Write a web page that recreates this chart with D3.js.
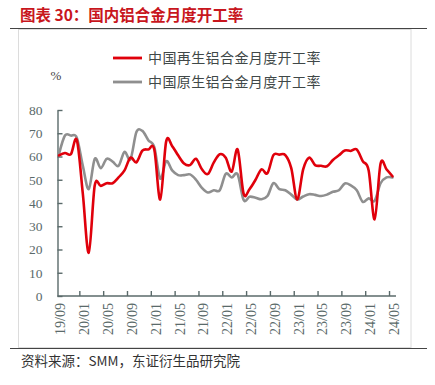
<!DOCTYPE html>
<html>
<head>
<meta charset="utf-8">
<script src="https://cdn.jsdelivr.net/npm/d3@7"></script>
<style>
  body { margin: 0; background: #fff; }
  svg { display: block; }
</style>
</head>
<body>
<svg id="chart" width="435" height="385"></svg>
<script>
const months = [
  '19/09', '19/10', '19/11', '19/12',
  '20/01', '20/02', '20/03', '20/04', '20/05', '20/06', '20/07', '20/08', '20/09', '20/10', '20/11', '20/12',
  '21/01', '21/02', '21/03', '21/04', '21/05', '21/06', '21/07', '21/08', '21/09', '21/10', '21/11', '21/12',
  '22/01', '22/02', '22/03', '22/04', '22/05', '22/06', '22/07', '22/08', '22/09', '22/10', '22/11', '22/12',
  '23/01', '23/02', '23/03', '23/04', '23/05', '23/06', '23/07', '23/08', '23/09', '23/10', '23/11', '23/12',
  '24/01', '24/02', '24/03', '24/04', '24/05'
]

// 中国再生铝合金月度开工率
const recycled = [
  60.5, 61.5, 61, 67,
  44, 18.6, 47.5, 47.3, 48.5, 48.5, 51, 54, 59.5, 57.5, 62.5, 63,
  63, 41.5, 66.5, 64.5, 60.5, 57, 56.3, 59, 54.5, 52.5, 57.5, 61,
  59.5, 53.5, 63, 44, 46, 50, 54.5, 52.8, 60.6, 60.8, 60.6, 55,
  41.5, 54.5, 59.5, 56.3, 56, 55.8, 58.5, 60.5, 62.6, 62.4, 63, 58,
  54, 33, 57, 54.5, 51.5
]

// 中国原生铝合金月度开工率
const primary = [
  61, 69, 69, 68,
  56, 46, 59, 55, 59, 57.8, 56, 62, 58.8, 70.5, 71, 67,
  64, 50.5, 58, 54, 52, 52, 52.3, 50, 46.5, 44.5, 45.5, 45.5,
  52.5, 51, 52.3, 41.3, 42.7, 42.3, 41.6, 43, 48.5, 46, 45.5, 43.6,
  41.5, 42.8, 43.8, 43.5, 43, 43.6, 44.8, 45.5, 48.4, 47.6, 45.5, 40.5,
  42, 41, 48.5, 51, 51
]

const yTicks = [0, 10, 20, 30, 40, 50, 60, 70, 80]
const xLabels = months.filter((d, i) => i % 4 === 0)

const seriesList = [
  { name: '中国再生铝合金月度开工率', values: recycled, color: '#e0000b' },
  { name: '中国原生铝合金月度开工率', values: primary, color: '#8f8f8f' }
]

const CJK = '"Noto Sans CJK SC", sans-serif'
const SERIF = '"Liberation Serif", "DejaVu Serif", serif'
const AXIS_COLOR = '#5a6a6a'

const svg = d3.select('#chart')

// frame of the chart cell
svg.append('rect')
  .attr('x', 18.5).attr('y', 29.5)
  .attr('width', 392.5).attr('height', 318)
  .attr('fill', 'none')
  .attr('stroke', '#dcdcdc')
  .attr('stroke-width', 1)

// title
svg.append('text')
  .attr('x', 20).attr('y', 21)
  .attr('font-family', CJK)
  .attr('font-size', 15.5)
  .attr('font-weight', 'bold')
  .attr('fill', '#c8161d')
  .text('图表 30：国内铝合金月度开工率')

svg.append('line')
  .attr('x1', 10).attr('x2', 427)
  .attr('y1', 28.5).attr('y2', 28.5)
  .attr('stroke', '#444')
  .attr('stroke-width', 1.2)

svg.append('line')
  .attr('x1', 10).attr('x2', 427)
  .attr('y1', 348.5).attr('y2', 348.5)
  .attr('stroke', '#444')
  .attr('stroke-width', 1.2)

// source
svg.append('text')
  .attr('x', 21).attr('y', 366)
  .attr('font-family', CJK)
  .attr('font-size', 13.5)
  .attr('fill', '#333')
  .text('资料来源：SMM，东证衍生品研究院')

// scales
const x = d3.scalePoint()
  .domain(months)
  .range([59, 392.5])

const y = d3.scaleLinear()
  .domain([0, 80])
  .range([296, 110])

const step = x.step()

// y axis
const yAxis = svg.append('g')
  .attr('transform', 'translate(57.5,0)')
  .call(d3.axisLeft(y)
    .tickValues(yTicks)
    .tickSize(-5)
    .tickSizeOuter(0)
    .tickPadding(15))
yAxis.select('.domain').attr('stroke', AXIS_COLOR).attr('stroke-width', 1.4)
yAxis.selectAll('.tick line').attr('stroke', AXIS_COLOR).attr('stroke-width', 1.4)
yAxis.selectAll('.tick text')
  .attr('font-family', SERIF)
  .attr('font-size', 13.5)
  .attr('fill', AXIS_COLOR)

svg.append('text')
  .attr('x', 56).attr('y', 80)
  .attr('text-anchor', 'middle')
  .attr('font-family', SERIF)
  .attr('font-size', 13)
  .attr('fill', '#444')
  .text('%')

// x axis line and ticks between categories
svg.append('line')
  .attr('x1', 57.5).attr('x2', x(months[months.length - 1]) + step / 2 + 0.5)
  .attr('y1', y(0)).attr('y2', y(0))
  .attr('stroke', AXIS_COLOR)
  .attr('stroke-width', 1.4)

const boundaryMonths = months.filter((d, i) => i % 4 === 3)
svg.append('g')
  .selectAll('line')
  .data(boundaryMonths)
  .join('line')
  .attr('x1', (d) => x(d) + step / 2)
  .attr('x2', (d) => x(d) + step / 2)
  .attr('y1', y(0))
  .attr('y2', y(0) - 5)
  .attr('stroke', AXIS_COLOR)
  .attr('stroke-width', 1.4)

const xAxis = svg.append('g')
  .attr('transform', `translate(0,${y(0)})`)
  .call(d3.axisBottom(x)
    .tickValues(xLabels)
    .tickSize(0)
    .tickPadding(0))
xAxis.select('.domain').remove()
xAxis.selectAll('.tick text')
  .attr('font-family', SERIF)
  .attr('font-size', 14)
  .attr('fill', AXIS_COLOR)
  .attr('text-anchor', 'end')
  .attr('transform', 'translate(1,7) rotate(-90)')
  .attr('x', 0)
  .attr('y', 0)
  .attr('dy', '0.35em')

// lines
const line = d3.line()
  .x((d, i) => x(months[i]))
  .y((d) => y(d))
  .curve(d3.curveCardinal.tension(0))

svg.append('g')
  .selectAll('path')
  .data(seriesList.slice().reverse())
  .join('path')
  .attr('d', (d) => line(d.values))
  .attr('fill', 'none')
  .attr('stroke', (d) => d.color)
  .attr('stroke-width', 2.6)
  .attr('stroke-linejoin', 'round')
  .attr('stroke-linecap', 'round')

// legend
const legend = svg.append('g')
  .selectAll('g')
  .data(seriesList)
  .join('g')
  .attr('transform', (d, i) => `translate(113,${58 + i * 24})`)

legend.append('line')
  .attr('x1', 0).attr('x2', 29)
  .attr('y1', 0).attr('y2', 0)
  .attr('stroke', (d) => d.color)
  .attr('stroke-width', 2.8)

legend.append('text')
  .attr('x', 35)
  .attr('y', 0)
  .attr('dy', '0.36em')
  .attr('font-family', CJK)
  .attr('font-size', 14)
  .attr('letter-spacing', 0.4)
  .attr('fill', '#404848')
  .text((d) => d.name)
</script>
</body>
</html>
